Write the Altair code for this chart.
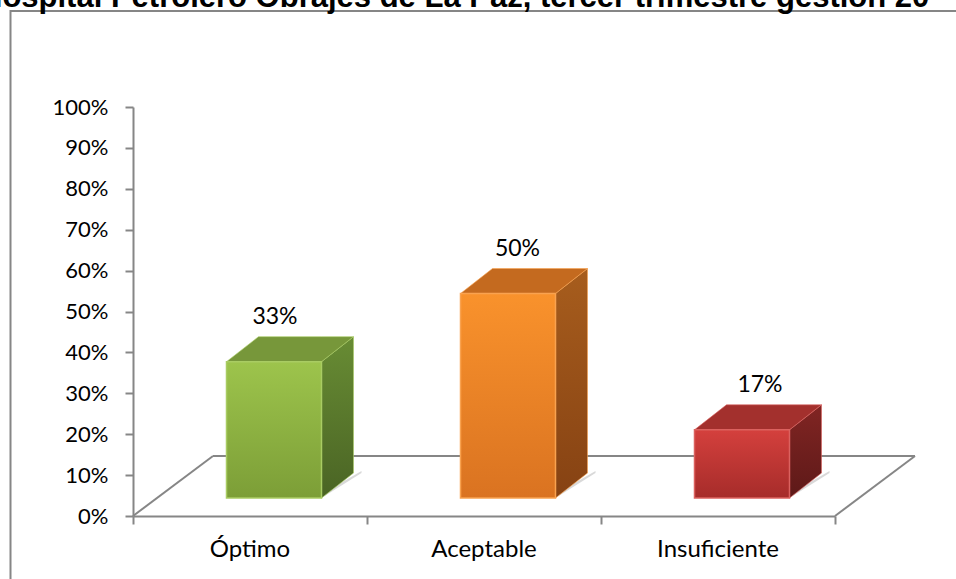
import altair as alt
import pandas as pd

# ---- data ----
categories = ["Óptimo", "Aceptable", "Insuficiente"]
values = [0.3333, 0.50, 0.1667]
value_labels = ["33%", "50%", "17%"]
y_ticks = [0.0, 0.1, 0.2, 0.3, 0.4, 0.5, 0.6, 0.7, 0.8, 0.9, 1.0]
x_ticks = [0, 1, 2, 3]
title_text = "Hospital Petrolero Obrajes de La Paz, tercer trimestre gestión 20"

# ---- styling / 3-D projection constants ----
W, H = 702, 409
PX_X = W / 3.0          # pixels per category unit
PX_Y = H / 1.0          # pixels per 100 %
FLOOR_DX, FLOOR_DY = 80 / PX_X, 60 / PX_Y
FRONT_DX, FRONT_DY = 24 / PX_X, 18 / PX_Y
DEPTH_DX, DEPTH_DY = 32 / PX_X, 25 / PX_Y
HALF_W = 47.5 / PX_X
GREY = "#868686"
FONT = "Lato"

palette = [
    dict(front=("#9DC44C", "#7C9E37"), top="#77973A", side=("#688C34", "#4A6424"), edge="#A9CC63"),
    dict(front=("#F9922C", "#DA7321"), top="#C46A1F", side=("#A75D1D", "#864213"), edge="#F9A24F"),
    dict(front=("#D4403D", "#A62C2A"), top="#A3302D", side=("#812523", "#5D1918"), edge="#DB625F"),
]

xs = alt.Scale(domain=[0, 3], nice=False, zero=False)
ys = alt.Scale(domain=[0, 1], nice=False, zero=False)
X_AX = alt.Axis(values=x_ticks, labels=False, title=None, grid=False, tickSize=8,
                tickColor=GREY, tickWidth=2, domainColor=GREY, domainWidth=2, zindex=1)
Y_AX = alt.Axis(values=y_ticks, format=".0%", title=None, grid=False, tickSize=8,
                tickColor=GREY, tickWidth=2, domainColor=GREY, domainWidth=2, zindex=1,
                labelFont=FONT, labelFontSize=22, labelColor="black", labelPadding=17)


def X(f):
    return alt.X(f, scale=xs, axis=X_AX, title=None)


def Y(f):
    return alt.Y(f, scale=ys, axis=Y_AX, title=None)


def grad(c1, c2):
    return alt.Gradient(gradient="linear", x1=0, y1=0, x2=0, y2=1,
                        stops=[alt.GradientStop(color=c1, offset=0),
                               alt.GradientStop(color=c2, offset=1)])


layers = []

# frame around the chart (extends past the window like the reference)
frame = alt.Chart(alt.Data(values=[{}])).mark_rect(
    fill="white", fillOpacity=0, stroke=GREY, strokeWidth=2
).encode(x=alt.value(-122.5), x2=alt.value(W + 200), y=alt.value(-96), y2=alt.value(H + 200))
layers.append(frame)

# floor of the 3-D plot
floor_df = pd.DataFrame({
    "x0": [0, 3, FLOOR_DX],
    "y0": [0, 0, FLOOR_DY],
    "x1": [FLOOR_DX, 3 + FLOOR_DX, 3 + FLOOR_DX],
    "y1": [FLOOR_DY, FLOOR_DY, FLOOR_DY],
})
floor = alt.Chart(floor_df).mark_rule(color=GREY, strokeWidth=2).encode(
    x=X("x0:Q"), x2="x1:Q", y=Y("y0:Q"), y2="y1:Q",
)
layers.append(floor)

# soft shadows on the floor behind the bars
for i in range(3):
    cx = i + 0.5 + FRONT_DX
    xr = cx + HALF_W
    sh_df = pd.DataFrame({"x": [xr, xr + DEPTH_DX + 8 / PX_X],
                          "y": [FRONT_DY, FRONT_DY + DEPTH_DY],
                          "y2": [FRONT_DY + 4 / PX_Y, FRONT_DY + DEPTH_DY + 2 / PX_Y]})
    layers.append(alt.Chart(sh_df).mark_area(color="#CFCFCF", opacity=0.8).encode(
        x=X("x:Q"), y=Y("y:Q"), y2="y2:Q"))

# bars: side, top, front faces
for i, (cat, v) in enumerate(zip(categories, values)):
    p = palette[i]
    cx = i + 0.5 + FRONT_DX
    xl, xr = cx - HALF_W, cx + HALF_W
    base, top = FRONT_DY, v + FRONT_DY
    side_df = pd.DataFrame({"x": [xr, xr + DEPTH_DX],
                            "y": [base, base + DEPTH_DY],
                            "y2": [top, top + DEPTH_DY]})
    top_df = pd.DataFrame({"x": [xl, xl + DEPTH_DX, xr, xr + DEPTH_DX],
                           "y": [top, top, top, top + DEPTH_DY],
                           "y2": [top, top + DEPTH_DY, top + DEPTH_DY, top + DEPTH_DY]})
    front_df = pd.DataFrame({"x": [xl], "x2": [xr], "y": [base], "y2": [top]})

    layers.append(alt.Chart(side_df).mark_area(
        color=grad(*p["side"]), stroke=p["edge"], strokeWidth=1, strokeOpacity=0.6
    ).encode(x=X("x:Q"), y=Y("y:Q"), y2="y2:Q"))
    layers.append(alt.Chart(top_df).mark_area(
        color=p["top"], stroke=p["edge"], strokeWidth=1, strokeOpacity=0.6
    ).encode(x=X("x:Q"), y=Y("y:Q"), y2="y2:Q"))
    layers.append(alt.Chart(front_df).mark_rect(
        fill=grad(*p["front"]), stroke=p["edge"], strokeWidth=1.5
    ).encode(x=X("x:Q"), x2="x2:Q", y=Y("y:Q"), y2="y2:Q"))

# value labels above bars (slight perspective drift to the right)
lab_df = pd.DataFrame({
    "x": [i + 0.5 + FRONT_DX + (1 + 8.5 * i) / PX_X for i in range(3)],
    "y": [v + FRONT_DY for v in values],
    "label": value_labels,
})
layers.append(alt.Chart(lab_df).mark_text(
    font=FONT, fontSize=23, color="black", baseline="middle", align="center", dy=-45
).encode(x=X("x:Q"), y=Y("y:Q"), text="label:N"))

# category labels under the axis
cat_df = pd.DataFrame({"x": [i + 0.5 for i in range(3)], "cat": categories})
layers.append(alt.Chart(cat_df).mark_text(
    font=FONT, fontSize=24, color="black", baseline="middle", align="center"
).encode(x=X("x:Q"), y=alt.value(H + 34), text="cat:N"))

# title (cut off by the top of the picture, like the reference)
layers.append(alt.Chart(alt.Data(values=[{}])).mark_text(
    font="Liberation Sans", fontWeight="bold", fontSize=31, color="black",
    align="left", baseline="alphabetic"
).encode(x=alt.value(-153), y=alt.value(-100), text=alt.value(title_text)))

chart = alt.layer(*layers).properties(
    width=W, height=H,
    padding={"left": 133, "top": 107, "right": 956 - 133 - W, "bottom": 579 - 107 - H},
    autosize=alt.AutoSizeParams(type="none"),
    background="white",
).configure_view(stroke=None)

chart.save("out.html", embed_options={"renderer": "svg", "actions": False})
